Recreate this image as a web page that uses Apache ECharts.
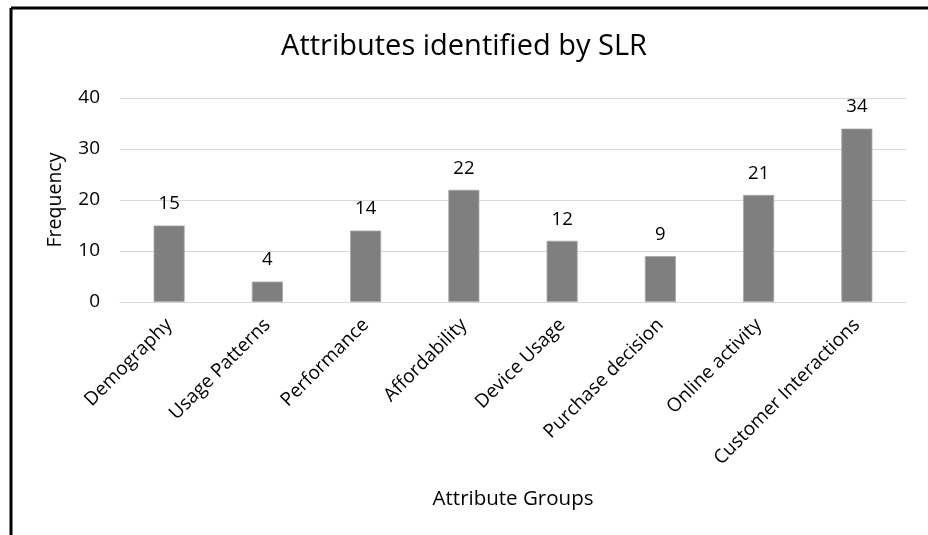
<!DOCTYPE html>
<html>
<head>
<meta charset="utf-8">
<script src="https://cdn.jsdelivr.net/npm/echarts@6/dist/echarts.min.js"></script>
<style>
  html, body { margin: 0; padding: 0; background: #fff; }
  #chart { width: 928px; height: 535px; }
</style>
</head>
<body>
<div id="chart"></div>
<script>
// Attribute groups and how often each one appears
const categories = ['Demography', 'Usage Patterns', 'Performance', 'Affordability',
  'Device Usage', 'Purchase decision', 'Online activity', 'Customer Interactions'];
const frequency = [15, 4, 14, 22, 12, 9, 21, 34];
const yTicks = { min: 0, max: 40, interval: 10 };

const FONT = '"Open Sans", sans-serif';
const chart = echarts.init(document.getElementById('chart'));

chart.setOption({
  animation: false,
  backgroundColor: '#ffffff',
  title: {
    text: 'Attributes identified by SLR',
    left: 'center',
    top: 27,
    textStyle: { fontFamily: FONT, fontSize: 29, fontWeight: 'normal', color: '#000' }
  },
  grid: { left: 120, right: 22, top: 98, bottom: 233, containLabel: false },
  xAxis: {
    type: 'category',
    data: categories,
    name: 'Attribute Groups',
    nameLocation: 'middle',
    nameGap: 187,
    nameMoveOverlap: false,
    nameTextStyle: { fontFamily: FONT, fontSize: 20.5, color: '#000' },
    axisLine: { lineStyle: { color: '#d9d9d9', width: 1 } },
    axisTick: { show: false },
    axisLabel: { rotate: 45, interval: 0, margin: 20, fontFamily: FONT, fontSize: 19, color: '#000' }
  },
  yAxis: {
    type: 'value',
    min: yTicks.min,
    max: yTicks.max,
    interval: yTicks.interval,
    name: 'Frequency',
    nameLocation: 'middle',
    nameGap: 55,
    nameMoveOverlap: false,
    nameTextStyle: { fontFamily: FONT, fontSize: 19.5, color: '#000' },
    axisLine: { show: false },
    axisTick: { show: false },
    axisLabel: { margin: 20, fontFamily: FONT, fontSize: 19, color: '#000' },
    splitLine: { lineStyle: { color: '#d9d9d9', width: 1 } }
  },
  series: [{
    type: 'bar',
    data: frequency,
    barWidth: 31,
    itemStyle: { color: '#7f7f7f', borderColor: '#a6a6a6', borderWidth: 0.8 },
    label: {
      show: true,
      position: 'top',
      distance: 12,
      fontFamily: FONT,
      fontSize: 18.5,
      color: '#000'
    }
  }],
  graphic: [
    // frame edges along the top and left
    { type: 'line', shape: { x1: 11, y1: 8, x2: 928, y2: 8 }, style: { stroke: '#000', lineWidth: 3 } },
    { type: 'line', shape: { x1: 11, y1: 8, x2: 11, y2: 535 }, style: { stroke: '#000', lineWidth: 3 } }
  ]
});
</script>
</body>
</html>
